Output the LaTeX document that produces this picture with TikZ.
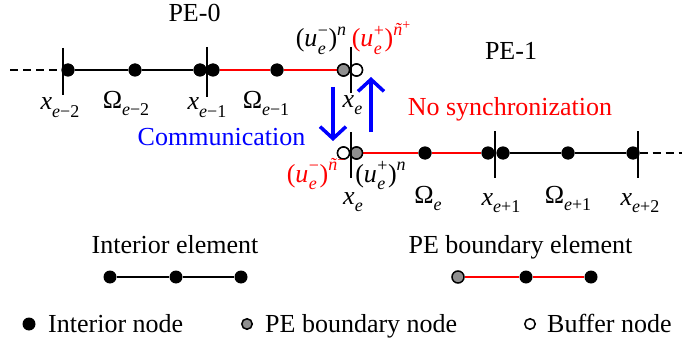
\documentclass[tikz,border=0pt]{standalone}
\usepackage{fontspec}
\setmainfont{Liberation Serif}
\usetikzlibrary{arrows.meta}
\newcommand\sbx[1]{\raisebox{-0.3em}{\fontsize{18}{18}\selectfont #1}}
\newcommand\spx[1]{\raisebox{0.45em}{\fontsize{18}{18}\selectfont #1}}
\newcommand\sspx[1]{\raisebox{0.3em}{\fontsize{14}{14}\selectfont #1}}
\newcommand\supsubx[2]{%
  \sbox0{\fontsize{18}{18}\selectfont #1}\sbox2{\fontsize{18}{18}\selectfont #2}%
  \ifdim\wd0>\wd2 \dimen0=\wd0 \else \dimen0=\wd2 \fi
  \kern0.5pt\makebox[\dimen0][l]{\makebox[0pt][l]{\raisebox{0.42em}{\usebox0}}\raisebox{-0.3em}{\usebox2}}\kern0.5pt}
\definecolor{bgray}{HTML}{8F8F8F}
\begin{document}
\begin{tikzpicture}[x=1pt,y=-1pt,
  inode/.style={circle,fill=black,inner sep=0pt,minimum size=13pt},
  bnode/.style={circle,fill=bgray,draw=black,line width=1.5pt,inner sep=0pt,minimum size=12pt},
  fnode/.style={circle,fill=white,draw=black,line width=1.5pt,inner sep=0pt,minimum size=12pt},
  ielem/.style={line width=2pt,black},
  belem/.style={line width=2pt,red},
  tickl/.style={line width=2pt,black},
  dashl/.style={line width=2pt,black,dash pattern=on 8pt off 5pt},
  comm/.style={line width=3.5pt,blue,-{Straight Barb[length=12pt,width=26pt,line width=3.5pt]}},
  lbl/.style={inner sep=0pt,anchor=base,font=\fontsize{26}{26}\selectfont},
  lbll/.style={inner sep=0pt,anchor=base west,font=\fontsize{26}{26}\selectfont}]
\useasboundingbox (0,0) rectangle (686,345);
% top row (PE-0)
\coordinate (ad) at (10,70);
\node[inode] (a1) at (68,70) {};
\node[inode] (a2) at (135,70) {};
\node[inode] (a3) at (200,70) {};
\node[inode] (a4) at (213,70) {};
\node[inode] (a5) at (277,70) {};
\node[bnode] (a6) at (343.5,70) {};
\node[fnode] (a7) at (356.5,70) {};
% bottom row (PE-1)
\node[fnode] (b1) at (343.5,153) {};
\node[bnode] (b2) at (356.5,153) {};
\node[inode] (b3) at (425,153) {};
\node[inode] (b4) at (488,153) {};
\node[inode] (b5) at (503,153) {};
\node[inode] (b6) at (568,153) {};
\node[inode] (b7) at (633,153) {};
\coordinate (bd) at (682,153);
\draw[dashl] (ad) -- (a1);
\draw[ielem] (a1) -- (a2) -- (a3);
\draw[belem] (a4) -- (a5) -- (a6);
\draw[belem] (b2) -- (b3) -- (b4);
\draw[ielem] (b5) -- (b6) -- (b7);
\draw[dashl] (b7) -- (bd);
% redraw nodes on top of lines
\foreach \n/\s in {a1/inode,a2/inode,a3/inode,a4/inode,a5/inode,b3/inode,b4/inode,b5/inode,b6/inode,b7/inode}
  \node[\s] at (\n) {};
\node[bnode] at (a6) {};
\node[fnode] at (a7) {};
\node[fnode] at (b1) {};
\node[bnode] at (b2) {};
% ticks
\coordinate (t1a) at (63,48);  \coordinate (t1b) at (63,95);
\coordinate (t2a) at (207,47); \coordinate (t2b) at (207,97);
\coordinate (t3a) at (350.5,47); \coordinate (t3b) at (350.5,93);
\coordinate (t4a) at (350.5,132); \coordinate (t4b) at (350.5,178);
\coordinate (t5a) at (495,131); \coordinate (t5b) at (495,178);
\coordinate (t6a) at (638,131); \coordinate (t6b) at (638,178);
\draw[tickl] (t1a) -- (t1b);
\draw[tickl] (t2a) -- (t2b);
\draw[tickl] (t3a) -- (t3b);
\draw[tickl] (t4a) -- (t4b);
\draw[tickl] (t5a) -- (t5b);
\draw[tickl] (t6a) -- (t6b);
% communication arrows
\coordinate (d1) at (333,87); \coordinate (d2) at (333,141);
\coordinate (u1) at (371,132); \coordinate (u2) at (371,77);
\draw[comm] (d1) -- (d2);
\draw[comm] (u1) -- (u2);
% labels
\node[lbl] (pe0) at (194.5,22) {PE-0};
\node[lbl] (pe1) at (511,60) {PE-1};
\node[lbl] (xm2) at (60,110) {\textit{x}\sbx{\textit{e}−2}};
\node[lbl] (om2) at (126,108) {Ω\sbx{\textit{e}−2}};
\node[lbl] (xm1) at (207,110) {\textit{x}\sbx{\textit{e}−1}};
\node[lbl] (om1) at (266,108) {Ω\sbx{\textit{e}−1}};
\node[lbl] (xet) at (352.5,107) {\textit{x}\sbx{\textit{e}}};
\node[lbl] (umt) at (321,47) {(\textit{u}\supsubx{−}{\textit{e}})\spx{\textit{n}}};
\node[lbl,text=red] (upt) at (381,47) {(\textit{u}\supsubx{+}{\textit{e}})\spx{\textit{ñ}\sspx{+}}};
\node[lbl,text=red] (nos) at (510,115) {No synchronization};
\node[lbl,text=blue] (com) at (221.5,146) {Communication};
\node[lbl,text=red] (umb) at (316,182) {(\textit{u}\supsubx{−}{\textit{e}})\spx{\textit{ñ}\sspx{−}}};
\node[lbl] (upb) at (380.5,182) {(\textit{u}\supsubx{+}{\textit{e}})\spx{\textit{n}}};
\node[lbl] (xeb) at (353,204) {\textit{x}\sbx{\textit{e}}};
\node[lbl] (oe) at (428,203) {Ω\sbx{\textit{e}}};
\node[lbl] (xp1) at (501,205) {\textit{x}\sbx{\textit{e}+1}};
\node[lbl] (op1) at (568,203) {Ω\sbx{\textit{e}+1}};
\node[lbl] (xp2) at (640,205) {\textit{x}\sbx{\textit{e}+2}};
% legend: elements
\node[lbl] (ie) at (175,253) {Interior element};
\node[inode] (l1) at (110,277) {};
\node[inode] (l2) at (176,277) {};
\node[inode] (l3) at (241,277) {};
\draw[ielem] (l1) -- (l2) -- (l3);
\node[lbl] (be) at (520.5,253) {PE boundary element};
\node[bnode] (m1) at (458,277) {};
\node[inode] (m2) at (526,277) {};
\node[inode] (m3) at (591,277) {};
\draw[belem] (m1) -- (m2) -- (m3);
% legend: nodes
\node[inode] (k1) at (29,324) {};
\node[lbll] (kt1) at (48,332) {Interior node};
\node[bnode,minimum size=10.5pt] (k2) at (247,324) {};
\node[lbll] (kt2) at (265,332) {PE boundary node};
\node[fnode,minimum size=10.5pt] (k3) at (530,324) {};
\node[lbll] (kt3) at (547,332) {Buffer node};
\end{tikzpicture}
\end{document}
